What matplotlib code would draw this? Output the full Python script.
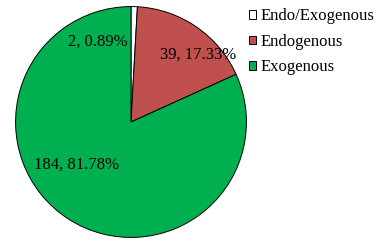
import matplotlib.pyplot as plt

# data
labels = ["Endo/Exogenous", "Endogenous", "Exogenous"]
counts = [2, 39, 184]
colors = ["#FFFFFF", "#C0504D", "#00B050"]

total = sum(counts)
pcts = [c / total * 100 for c in counts]

plt.rcParams['font.family'] = ['Liberation Serif', 'DejaVu Serif']

fig = plt.figure(figsize=(3.83, 2.42), dpi=100)
ax = fig.add_axes([15 / 383, 4 / 242, 232 / 383, 232 / 242])

wedges, _ = ax.pie(counts, colors=colors, startangle=90, counterclock=False,
                   wedgeprops=dict(edgecolor="black", linewidth=0.7))
ax.set_xlim(-1.005, 1.005)
ax.set_ylim(-1.005, 1.005)
ax.set_aspect("equal")

# label positions (Excel style, placed inside slices)
label_pos = [(-0.285, 0.70), (0.58, 0.58), (-0.47, -0.37)]
for (x, y), c, p in zip(label_pos, counts, pcts):
    ax.text(x, y, f"{c}, {p:.2f}%", ha="center", va="center", fontsize=12)

leg = fig.legend(wedges, labels, loc="upper left", bbox_to_anchor=(247 / 383, 0.972),
                 frameon=False, fontsize=12, handlelength=0.42, handleheight=0.42,
                 handletextpad=0.3, labelspacing=0.57, borderaxespad=0.0,
                 borderpad=0.1)

fig.savefig("out.png", dpi=100)
